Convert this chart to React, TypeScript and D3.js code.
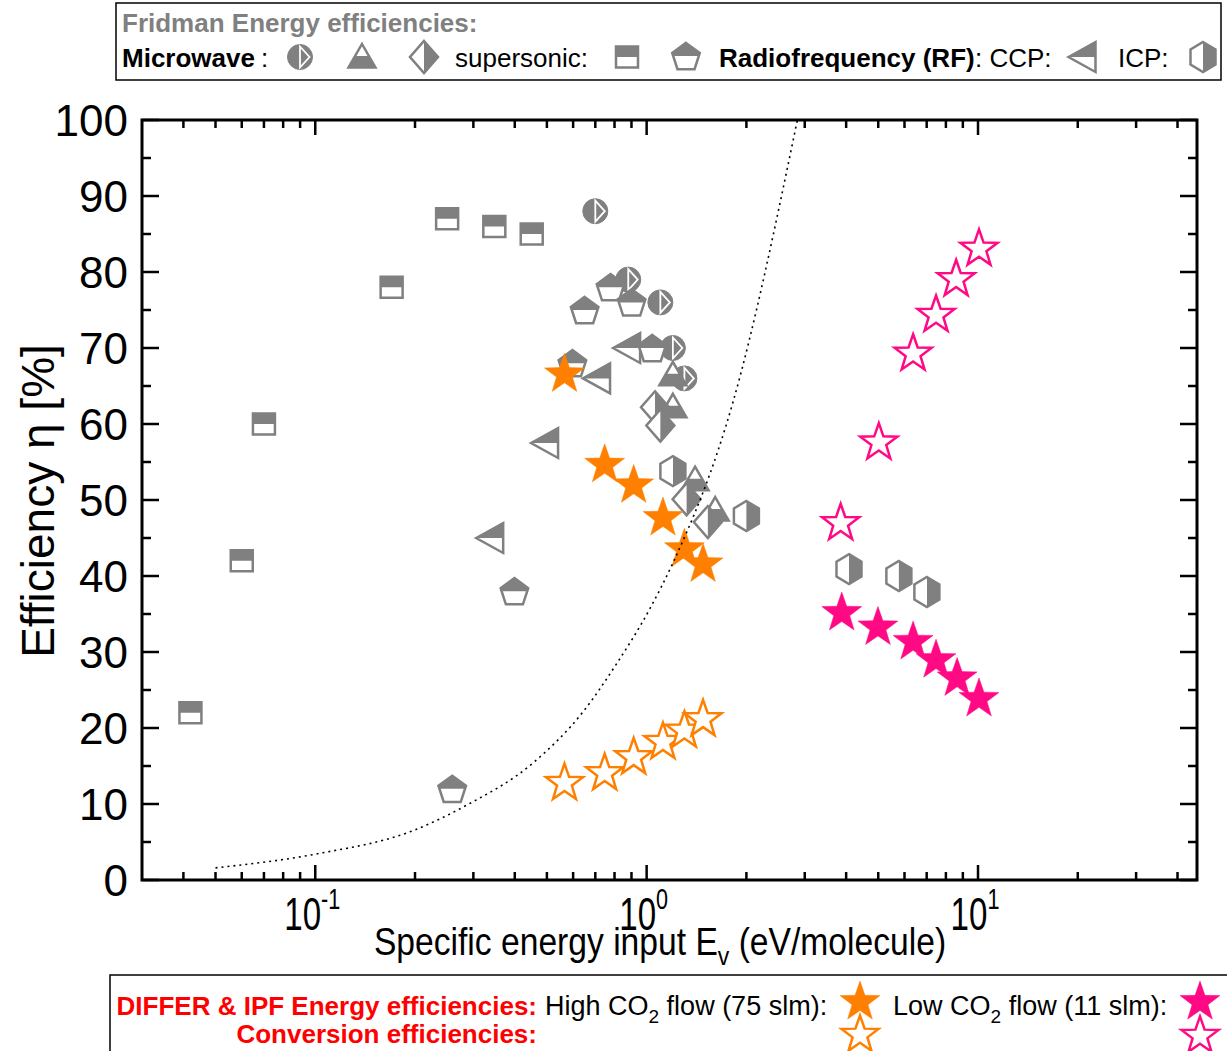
import React from 'react';
import * as d3 from 'd3';

const GRAY = '#808080';
const ORANGE = '#FF8000';
const PINK = '#FF0A84';
const RED = '#FF0000';

// ---------- data ----------
const mwCircleE = [0.70, 0.88, 1.10, 1.20, 1.30];
const mwCircleEta = [88, 79, 76, 70, 66];

const mwTriangleE = [1.20, 1.20, 1.40, 1.61];
const mwTriangleEta = [66.6, 62.4, 52.8, 48.8];

const mwDiamondE = [1.06, 1.10, 1.32, 1.53];
const mwDiamondEta = [62.2, 59.8, 50.1, 47.1];

const supersonicSquareE = [0.042, 0.060, 0.070, 0.170, 0.250, 0.347, 0.450];
const supersonicSquareEta = [22, 42, 60, 78, 87, 86, 85];

const supersonicPentagonE = [0.259, 0.399, 0.597, 0.650, 0.778, 0.901, 1.04];
const supersonicPentagonEta = [12, 38, 68, 75, 78, 76, 70];

const rfCcpE = [0.336, 0.492, 0.706, 0.870];
const rfCcpEta = [45, 57.5, 66, 70];

const rfIcpE = [1.20, 2.00, 4.08, 5.77, 7.01];
const rfIcpEta = [53.8, 47.9, 40.9, 40, 37.9];

const highFlowE = [0.565, 0.747, 0.914, 1.12, 1.30, 1.48];
const highFlowEnergyEta = [66.8, 54.9, 52.2, 47.9, 43.8, 41.8];
const highFlowConversion = [13, 14.3, 16.4, 18.4, 19.9, 21.4];

const lowFlowEnergyE = [3.88, 4.99, 6.37, 7.47, 8.65, 10.07];
const lowFlowEnergyEta = [35.4, 33.5, 31.6, 29.2, 26.8, 24.1];
const lowFlowConversionE = [3.85, 5.02, 6.37, 7.47, 8.59, 10.07];
const lowFlowConversion = [47.2, 57.8, 69.5, 74.6, 79.3, 83.3];

const curveE = [0.05, 0.1, 0.2, 0.285, 0.454, 0.642, 0.81, 1.02, 1.2, 1.82, 2.85];
const curveEta = [1.6, 3.4, 6.6, 9.8, 15.4, 22.1, 28.4, 35.6, 41.7, 62.8, 100];

const xMajorTicks = [0.1, 1, 10];
const xMajorSup = ['-1', '0', '1'];
const yMajorTicks = [0, 10, 20, 30, 40, 50, 60, 70, 80, 90, 100];

// ---------- scales ----------
const L = 142, R = 1197, T = 120, B = 880;
const xScale = d3.scaleLog().domain([0.03, 45.8]).range([L, R]);
const yScale = d3.scaleLinear().domain([0, 100]).range([B, T]);

const xMinorTicks = xScale.ticks().filter(
  (v) => !xMajorTicks.some((m) => Math.abs(m - v) < 1e-9) && xScale(v) > L + 2 && xScale(v) < R - 2
);
const yMinorTicks = d3.range(5, 100, 10);

// ---------- marker shapes ----------
type Shape = 'circle' | 'triUp' | 'diamond' | 'square' | 'pentagon' | 'triLeft' | 'hexagon';

const poly = (pts: [number, number][]) => 'M' + pts.map((p) => p.join(',')).join('L') + 'Z';

const pentagonPts = (): [number, number][] => {
  const Rr = 14.5;
  const pts: [number, number][] = [];
  for (let k = 0; k < 5; k++) {
    const a = (-90 + k * 72) * Math.PI / 180;
    pts.push([Rr * Math.cos(a), Rr * Math.sin(a) + 1.4]);
  }
  return pts;
};

const shapePath: Record<string, string> = {
  square: poly([[-11, -10.5], [11, -10.5], [11, 10.5], [-11, 10.5]]),
  pentagon: poly(pentagonPts()),
  triUp: poly([[0, -12], [13.5, 11.5], [-13.5, 11.5]]),
  triLeft: poly([[-13.5, 0], [13.5, -15], [13.5, 15]]),
  diamond: poly([[0, -16], [14, 0], [0, 16], [-14, 0]]),
  hexagon: poly([[0, -15], [12.5, -7.5], [12.5, 7.5], [0, 15], [-12.5, 7.5], [-12.5, -7.5]]),
};

const fillClip: Record<string, string> = {
  square: 'clipTop',
  pentagon: 'clipTop',
  triUp: 'clipBottom',
  triLeft: 'clipTop',
  diamond: 'clipRight',
  hexagon: 'clipRight',
};

function Marker({ shape, x, y }: { shape: Shape; x: number; y: number }) {
  if (shape === 'circle') {
    const r = 12.5;
    return (
      <g transform={`translate(${x},${y})`}>
        <circle r={r} fill={GRAY} stroke={GRAY} strokeWidth={1} />
        <path d={`M0,${-r + 2}L${r - 3},0L0,${r - 2}Z`} fill="none" stroke="white" strokeWidth={1.8} />
      </g>
    );
  }
  const d = shapePath[shape];
  return (
    <g transform={`translate(${x},${y})`}>
      <path d={d} fill="white" stroke="none" />
      <path d={d} fill={GRAY} stroke="none" clipPath={`url(#${fillClip[shape]})`} />
      <path d={d} fill="none" stroke={GRAY} strokeWidth={2.5} strokeLinejoin="miter" />
    </g>
  );
}

function starPath(Ro: number) {
  const Ri = Ro * 0.4;
  const pts: [number, number][] = [];
  for (let k = 0; k < 10; k++) {
    const rr = k % 2 === 0 ? Ro : Ri;
    const a = (-90 + k * 36) * Math.PI / 180;
    pts.push([rr * Math.cos(a), rr * Math.sin(a) + Ro * 0.1]);
  }
  return poly(pts);
}

function Star({ x, y, color, hollow }: { x: number; y: number; color: string; hollow?: boolean }) {
  return (
    <path
      transform={`translate(${x},${y})`}
      d={starPath(hollow ? 19.5 : 21)}
      fill={hollow ? 'white' : color}
      stroke={color}
      strokeWidth={hollow ? 2.5 : 0.5}
      strokeLinejoin="miter"
    />
  );
}

function Series({ shape, xs, ys }: { shape: Shape; xs: number[]; ys: number[] }) {
  return (
    <g>
      {xs.map((v, i) => (
        <Marker key={i} shape={shape} x={xScale(v)} y={yScale(ys[i])} />
      ))}
    </g>
  );
}

function StarSeries({ xs, ys, color, hollow }: { xs: number[]; ys: number[]; color: string; hollow?: boolean }) {
  return (
    <g>
      {xs.map((v, i) => (
        <Star key={i} x={xScale(v)} y={yScale(ys[i])} color={color} hollow={hollow} />
      ))}
    </g>
  );
}

export default function App() {
  const line = d3
    .line<number>()
    .x((_, i) => xScale(curveE[i]))
    .y((d) => yScale(d))
    .curve(d3.curveMonotoneX);

  const XMAJ = 15, XMIN = 8, YMAJ = 17, YMIN = 9;

  return (
    <svg
      width={1227}
      height={1051}
      style={{ position: 'absolute', left: 0, top: 0, background: 'white' }}
      fontFamily="'Liberation Sans', Arial, sans-serif"
    >
      <defs>
        <clipPath id="clipTop" clipPathUnits="userSpaceOnUse">
          <rect x={-50} y={-50} width={100} height={50} />
        </clipPath>
        <clipPath id="clipBottom" clipPathUnits="userSpaceOnUse">
          <rect x={-50} y={0} width={100} height={50} />
        </clipPath>
        <clipPath id="clipRight" clipPathUnits="userSpaceOnUse">
          <rect x={0} y={-50} width={50} height={100} />
        </clipPath>
        <clipPath id="clipPlot">
          <rect x={L} y={T} width={R - L} height={B - T} />
        </clipPath>
      </defs>

      <rect x={0} y={0} width={1227} height={1051} fill="white" />

      {/* ---------- top legend ---------- */}
      <rect x={116} y={3} width={1105} height={77} fill="white" stroke="black" strokeWidth={1.5} />
      <text x={122} y={32} fontSize={26} fontWeight="bold" fill={GRAY}>
        Fridman Energy efficiencies:
      </text>
      <text x={122} y={67} fontSize={26} fontWeight="bold" fill="black">
        Microwave
      </text>
      <text x={261} y={67} fontSize={26} fill="black">
        :
      </text>
      <Marker shape="circle" x={300} y={57} />
      <Marker shape="triUp" x={362} y={56} />
      <Marker shape="diamond" x={424} y={57} />
      <text x={455} y={67} fontSize={26} fill="black">
        supersonic:
      </text>
      <Marker shape="square" x={627} y={57} />
      <Marker shape="pentagon" x={686} y={56} />
      <text x={719} y={67} fontSize={26} fontWeight="bold" fill="black">
        Radiofrequency (RF)
      </text>
      <text x={975} y={67} fontSize={26} fill="black">
        : CCP:
      </text>
      <Marker shape="triLeft" x={1082} y={57} />
      <text x={1118} y={67} fontSize={26} fill="black">
        ICP:
      </text>
      <Marker shape="hexagon" x={1203} y={57} />

      {/* ---------- plot frame & ticks ---------- */}
      <g stroke="black" strokeWidth={2.5}>
        {xMajorTicks.map((v) => (
          <g key={'xM' + v}>
            <line x1={xScale(v)} x2={xScale(v)} y1={B} y2={B - XMAJ} />
            <line x1={xScale(v)} x2={xScale(v)} y1={T} y2={T + XMAJ} />
          </g>
        ))}
        {xMinorTicks.map((v) => (
          <g key={'xm' + v}>
            <line x1={xScale(v)} x2={xScale(v)} y1={B} y2={B - XMIN} />
            <line x1={xScale(v)} x2={xScale(v)} y1={T} y2={T + XMIN} />
          </g>
        ))}
        {yMajorTicks.map((v) => (
          <g key={'yM' + v}>
            <line x1={L} x2={L + YMAJ} y1={yScale(v)} y2={yScale(v)} />
            <line x1={R} x2={R - YMAJ} y1={yScale(v)} y2={yScale(v)} />
          </g>
        ))}
        {yMinorTicks.map((v) => (
          <g key={'ym' + v}>
            <line x1={L} x2={L + YMIN} y1={yScale(v)} y2={yScale(v)} />
            <line x1={R} x2={R - YMIN} y1={yScale(v)} y2={yScale(v)} />
          </g>
        ))}
      </g>
      <rect x={L} y={T} width={R - L} height={B - T} fill="none" stroke="black" strokeWidth={3} />

      {/* y tick labels */}
      {yMajorTicks.map((v) => (
        <text key={'yl' + v} x={128} y={yScale(v) + 16} fontSize={44} textAnchor="end" fill="black">
          {v}
        </text>
      ))}
      {/* x tick labels */}
      {xMajorTicks.map((v, i) => (
        <g key={'xl' + v} transform={`translate(${xScale(v) - 3},${930}) scale(0.72,1)`}>
          <text x={0} y={0} fontSize={46} textAnchor="middle" fill="black">
            10
            <tspan dy={-21} fontSize={30}>
              {xMajorSup[i]}
            </tspan>
          </text>
        </g>
      ))}

      {/* axis titles */}
      <g transform="translate(660,955) scale(0.885,1)">
        <text x={0} y={0} fontSize={38} textAnchor="middle" fill="black">
          Specific energy input E
          <tspan dy={10} fontSize={26}>
            v
          </tspan>
          <tspan dy={-10}> (eV/molecule)</tspan>
        </text>
      </g>
      <text
        transform="translate(54,501) rotate(-90)"
        fontSize={46}
        textAnchor="middle"
        fill="black"
      >
        Efficiency η [%]
      </text>

      {/* ---------- data ---------- */}
      <Series shape="circle" xs={mwCircleE} ys={mwCircleEta} />
      <Series shape="triUp" xs={mwTriangleE} ys={mwTriangleEta} />
      <Series shape="diamond" xs={mwDiamondE} ys={mwDiamondEta} />
      <Series shape="hexagon" xs={rfIcpE} ys={rfIcpEta} />
      <Series shape="square" xs={supersonicSquareE} ys={supersonicSquareEta} />
      <Series shape="triLeft" xs={rfCcpE} ys={rfCcpEta} />
      <Series shape="pentagon" xs={supersonicPentagonE} ys={supersonicPentagonEta} />

      <StarSeries xs={highFlowE} ys={highFlowEnergyEta} color={ORANGE} />
      <StarSeries xs={highFlowE} ys={highFlowConversion} color={ORANGE} hollow />
      <StarSeries xs={lowFlowEnergyE} ys={lowFlowEnergyEta} color={PINK} />
      <StarSeries xs={lowFlowConversionE} ys={lowFlowConversion} color={PINK} hollow />

      <path
        d={line(curveEta) || ''}
        fill="none"
        stroke="black"
        strokeWidth={1.6}
        strokeDasharray="2,4"
        clipPath="url(#clipPlot)"
      />

      {/* ---------- bottom legend ---------- */}
      <rect x={110} y={975} width={1140} height={100} fill="white" stroke="black" strokeWidth={1.5} />
      <text x={537} y={1015} fontSize={26} fontWeight="bold" fill={RED} textAnchor="end">
        DIFFER &amp; IPF Energy efficiencies:
      </text>
      <text x={537} y={1043} fontSize={26} fontWeight="bold" fill={RED} textAnchor="end">
        Conversion efficiencies:
      </text>
      <text x={545} y={1015} fontSize={27} fill="black">
        High CO
        <tspan dy={8} fontSize={19}>
          2
        </tspan>
        <tspan dy={-8}> flow (75 slm):</tspan>
      </text>
      <text x={893} y={1015} fontSize={27} fill="black">
        Low CO
        <tspan dy={8} fontSize={19}>
          2
        </tspan>
        <tspan dy={-8}> flow (11 slm):</tspan>
      </text>
      <Star x={860} y={1000} color={ORANGE} />
      <Star x={860} y={1033} color={ORANGE} hollow />
      <Star x={1200} y={1000} color={PINK} />
      <Star x={1200} y={1034} color={PINK} hollow />
    </svg>
  );
}
